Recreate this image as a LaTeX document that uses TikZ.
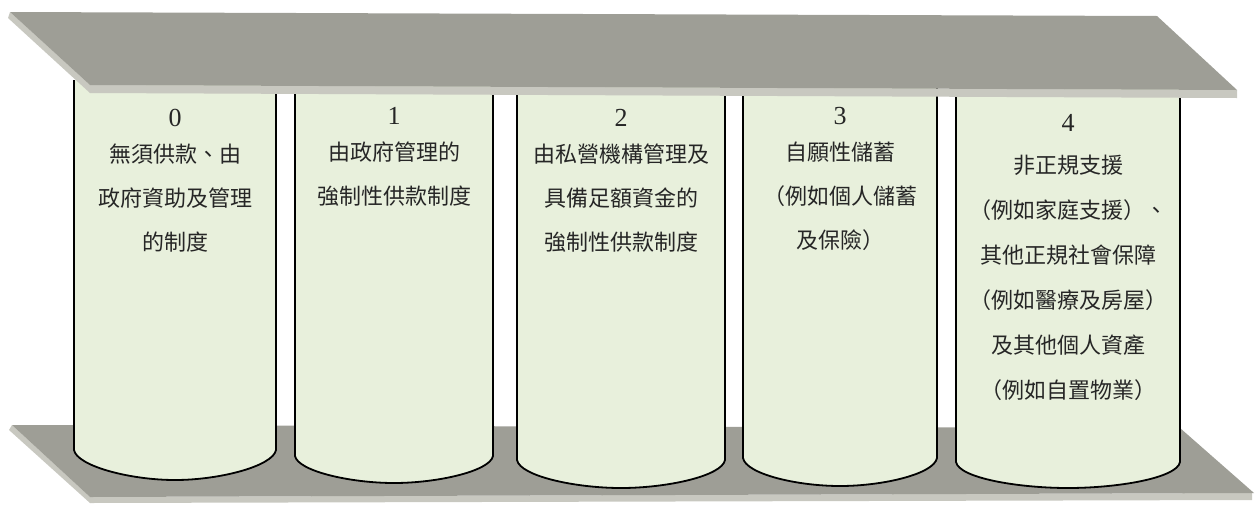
\documentclass[tikz,border=0pt]{standalone}
\usepackage{fontspec}
\setmainfont{Liberation Serif}
\newfontfamily\cjk{Noto Sans CJK TC}
\usepackage{tikz}
\usetikzlibrary{positioning}

\definecolor{losa}{RGB}{158,158,150}
\definecolor{canto}{RGB}{200,200,192}
\definecolor{pilar}{RGB}{232,240,220}

\begin{document}
\begin{tikzpicture}[x=0.5pt, y=-0.5pt,
    columna/.style={draw=black, line width=0.9pt, fill=pilar},
    texto/.style={anchor=north, align=center, inner sep=0pt, text=black!85,
                  font=\cjk\fontsize{11}{22}\selectfont}]
              \useasboundingbox (0,0) rectangle (1256,504);

              % Losa de abajo
              \fill[canto] (12,425) -- (90,497) -- (90,503) -- (9,430) -- cycle;
              \fill[canto] (90,497) -- (1252,493) -- (1252,500) -- (90,503) -- cycle;
              \fill[losa] (12,425) -- (1180,428) -- (1254,493) -- (90,497) -- cycle;

              % Columnas
              \draw[columna] (74,80) -- (74,450) .. controls (77,466) and (130,480) .. (175,480)
                    .. controls (220,480) and (273,466) .. (276,450) -- (276,80);
              \draw[columna] (295,80) -- (295,456) .. controls (298,471) and (350,483) .. (394,483)
                    .. controls (438,483) and (490,471) .. (493,456) -- (493,80);
              \draw[columna] (517,80) -- (517,460) .. controls (520,476) and (575,488) .. (621,488)
                    .. controls (667,488) and (722,476) .. (725,460) -- (725,80);
              \draw[columna] (743,80) -- (743,458) .. controls (746,474) and (797,486) .. (840,486)
                    .. controls (883,486) and (934,474) .. (937,458) -- (937,80);
              \draw[columna] (956,80) -- (956,462) .. controls (959,478) and (1018,488) .. (1068,488)
                    .. controls (1118,488) and (1177,478) .. (1180,462) -- (1180,80);

              % Losa de arriba
              \fill[canto] (10,12) -- (90,85) -- (90,93) -- (8,18) -- cycle;
              \fill[canto] (90,85) -- (1237,90) -- (1237,98) -- (90,93) -- cycle;
              \fill[losa] (10,12) -- (1157,16) -- (1237,90) -- (90,85) -- cycle;

              % Textos
              \node[texto] (p0) at (175,109) {{\rmfamily\fontsize{13}{22}\selectfont 0}\\[-4pt]無須供款、由\\政府資助及管理\\的制度};
              \node[texto] (p1) at (394,107) {{\rmfamily\fontsize{13}{22}\selectfont 1}\\[-4pt]由政府管理的\\強制性供款制度};
              \node[texto] (p2) at (621,109) {{\rmfamily\fontsize{13}{22}\selectfont 2}\\[-4pt]由私營機構管理及\\具備足額資金的\\強制性供款制度};
              \node[texto] (p3) at (840,107) {{\rmfamily\fontsize{13}{22}\selectfont 3}\\[-4pt]自願性儲蓄\\（例如個人儲蓄\\及保險）};
              \node[texto, font=\cjk\fontsize{11}{22.5}\selectfont] (p4) at (1068,114)
                    {{\rmfamily\fontsize{13}{22}\selectfont 4}\\[-1.5pt]非正規支援\\（例如家庭支援）、\\其他正規社會保障\\（例如醫療及房屋）\\及其他個人資產\\（例如自置物業）};
            \end{tikzpicture}
\end{document}
